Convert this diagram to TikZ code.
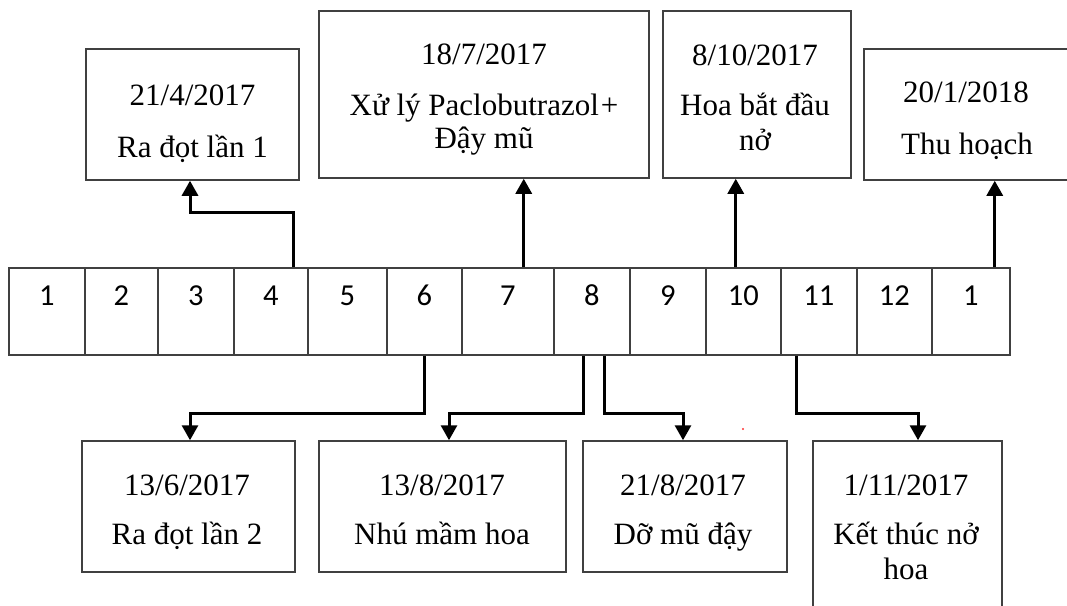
\documentclass[tikz,border=0pt]{standalone}
\usepackage{fontspec}
\setmainfont{Liberation Serif}
\newfontfamily\calfont{Carlito}
\usetikzlibrary{arrows.meta,calc}
\definecolor{boxgray}{RGB}{64,64,64}
\begin{document}
\begin{tikzpicture}[x=1pt,y=-1pt,
  box/.style={draw=boxgray, line width=1.5pt, rectangle, inner sep=0pt},
  cell/.style={draw=boxgray, line width=1.5pt, inner sep=0pt, minimum height=87pt,
    text height=38pt, text depth=49pt, anchor=north west,
    font=\calfont\fontsize{30.5}{32}\selectfont},
  txt/.style={anchor=base, inner sep=0pt, font=\fontsize{31}{35}\selectfont},
  conn/.style={line width=3pt, -{Triangle[width=16pt,length=15pt]}}
]
\useasboundingbox (0,0) rectangle (1067,605);

% month cells
\node[cell, minimum width=76pt] (c1) at (8,267) {1};
\node[cell, minimum width=73pt] (c2) at (84,267) {2};
\node[cell, minimum width=76pt] (c3) at (157,267) {3};
\node[cell, minimum width=74pt] (c4) at (233,267) {4};
\node[cell, minimum width=79pt] (c5) at (307,267) {5};
\node[cell, minimum width=75pt] (c6) at (386,267) {6};
\node[cell, minimum width=92pt] (c7) at (461,267) {7};
\node[cell, minimum width=76pt] (c8) at (553,267) {8};
\node[cell, minimum width=76pt] (c9) at (629,267) {9};
\node[cell, minimum width=75pt] (c10) at (705,267) {10};
\node[cell, minimum width=76pt] (c11) at (780,267) {11};
\node[cell, minimum width=75pt] (c12) at (856,267) {12};
\node[cell, minimum width=78pt] (c13) at (931,267) {1};

% top boxes
\node[box, minimum width=213pt, minimum height=131pt] (boxA) at (192.5,114.5) {};
\node[txt] (tA1) at (192.5,105) {21/4/2017};
\node[txt] (tA2) at (192.5,157) {Ra đọt lần 1};

\node[box, minimum width=330pt, minimum height=167pt] (boxB) at (484,94.5) {};
\node[txt] (tB1) at (484,64) {18/7/2017};
\node[txt] (tB2) at (484,115) {Xử lý Paclobutrazol\kern2pt+};
\node[txt] (tB3) at (484,148) {Đậy mũ};

\node[box, minimum width=188pt, minimum height=167pt] (boxC) at (757,94.5) {};
\node[txt] (tC1) at (755,65) {8/10/2017};
\node[txt] (tC2) at (755,115) {Hoa bắt đầu};
\node[txt] (tC3) at (755,150) {nở};

\node[box, minimum width=204pt, minimum height=131pt] (boxD) at (966,114.5) {};
\node[txt] (tD1) at (966,102) {20/1/2018};
\node[txt] (tD2) at (967,154) {Thu hoạch};

% bottom boxes
\node[box, minimum width=213pt, minimum height=131pt] (boxE) at (188.5,506.5) {};
\node[txt] (tE1) at (187,495) {13/6/2017};
\node[txt] (tE2) at (187,544) {Ra đọt lần 2};

\node[box, minimum width=247pt, minimum height=131pt] (boxF) at (442.5,506.5) {};
\node[txt] (tF1) at (442,495) {13/8/2017};
\node[txt] (tF2) at (442,544) {Nhú mầm hoa};

\node[box, minimum width=204pt, minimum height=131pt] (boxG) at (685,506.5) {};
\node[txt] (tG1) at (683,495) {21/8/2017};
\node[txt] (tG2) at (683,544) {Dỡ mũ đậy};

\node[box, minimum width=189pt, minimum height=184pt] (boxH) at (907.5,533) {};
\node[txt] (tH1) at (906,495) {1/11/2017};
\node[txt] (tH2) at (906,544) {Kết thúc nở};
\node[txt] (tH3) at (906,579) {hoa};

% connectors up
\draw[conn] ([xshift=23pt]c4.north) -- ++(0,-55) -| ([xshift=-2.5pt]boxA.south);
\draw[conn] ([xshift=16pt]c7.north) -- ([xshift=16pt]c7.north |- boxB.south);
\draw[conn] ([xshift=-7.5pt]c10.north) -- ([xshift=-7.5pt]c10.north |- boxC.south);
\draw[conn] ([xshift=24pt]c13.north) -- ([xshift=24pt]c13.north |- boxD.south);

% connectors down
\draw[conn] (c6.south) -- ++(0,58) -| ([xshift=1.5pt]boxE.north);
\draw[conn] ([xshift=-8pt]c8.south) -- ++(0,58) -| ([xshift=6.5pt]boxF.north);
\draw[conn] ([xshift=13pt]c8.south) -- ++(0,58) -| ([xshift=-2pt]boxG.north);
\draw[conn] ([xshift=-22pt]c11.south) -- ++(0,58) -| ([xshift=10.5pt]boxH.north);

% stray dot
\fill[red!80] (743,429) circle (1.2pt);
\end{tikzpicture}
\end{document}
